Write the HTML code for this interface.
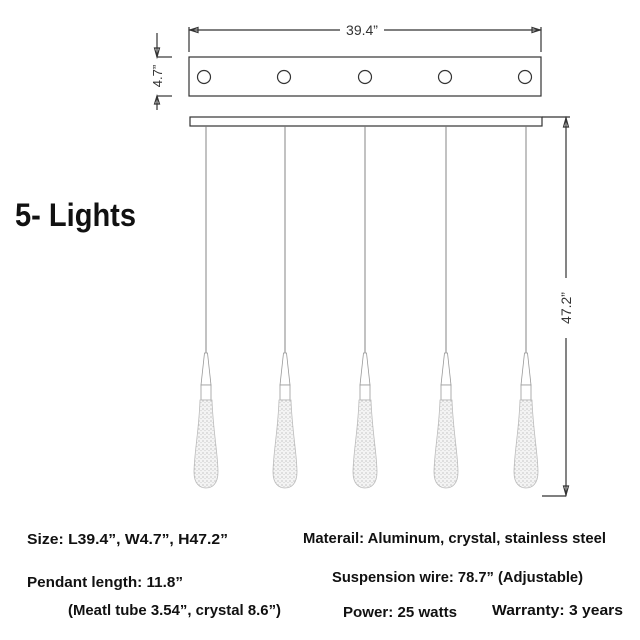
<!DOCTYPE html>
<html><head><meta charset="utf-8"><style>html,body{margin:0;padding:0;background:#fff}svg{display:block}</style></head>
<body>
<svg width="640" height="640" viewBox="0 0 640 640" xmlns="http://www.w3.org/2000/svg">
<defs>
<pattern id="dots" width="4" height="4" patternUnits="userSpaceOnUse">
<rect width="4" height="4" fill="#f4f4f4"/>
<circle cx="1" cy="1" r="0.6" fill="#aaa"/><circle cx="3" cy="2.6" r="0.5" fill="#bbb"/>
</pattern>
<g id="pend">
<path d="M-1.5,353 L-5,385 L5,385 L1.5,353 Z" fill="#fff" stroke="#999" stroke-width="0.8"/>
<rect x="-5" y="385" width="10" height="15" fill="#fff" stroke="#999" stroke-width="0.8"/>
<path d="M-6,400 L6,400 C7,430 12,455 12,472 C12,484 6,488 0,488 C-6,488 -12,484 -12,472 C-12,455 -7,430 -6,400 Z" fill="url(#dots)" stroke="#bbb" stroke-width="0.8"/>
</g>
</defs>
<g stroke="#333" stroke-width="1.2" fill="none">
<line x1="189" y1="30" x2="340" y2="30"/><line x1="384" y1="30" x2="541" y2="30"/>
<line x1="189" y1="27" x2="189" y2="52"/><line x1="541" y1="27" x2="541" y2="52"/>
<path d="M190,30 L198,27.5 L198,32.5 Z"/><path d="M540,30 L532,27.5 L532,32.5 Z"/>
<rect x="189" y="57" width="352" height="39"/>
<circle cx="204" cy="77" r="6.5"/><circle cx="284" cy="77" r="6.5"/><circle cx="365" cy="77" r="6.5"/><circle cx="445" cy="77" r="6.5"/><circle cx="525" cy="77" r="6.5"/>
<line x1="157" y1="33" x2="157" y2="57"/><line x1="157" y1="96" x2="157" y2="110"/>
<line x1="157" y1="57" x2="172" y2="57"/><line x1="157" y1="96" x2="172" y2="96"/>
<path d="M157,57 L154.5,48 L159.5,48 Z"/><path d="M157,96 L154.5,104 L159.5,104 Z"/>
<rect x="190" y="117" width="352" height="9"/>
<line x1="542" y1="117" x2="570" y2="117"/>
<line x1="566" y1="117" x2="566" y2="278"/><line x1="566" y1="338" x2="566" y2="496"/>
<line x1="542" y1="496" x2="566" y2="496"/>
<path d="M566,118 L563.5,127 L568.5,127 Z"/><path d="M566,495 L563.5,486 L568.5,486 Z"/>
</g>
<g stroke="#777" stroke-width="0.9">
<line x1="206" y1="126" x2="206" y2="354"/><line x1="285" y1="126" x2="285" y2="354"/><line x1="365" y1="126" x2="365" y2="354"/><line x1="446" y1="126" x2="446" y2="354"/><line x1="526" y1="126" x2="526" y2="354"/>
</g>
<use href="#pend" x="206"/><use href="#pend" x="285"/><use href="#pend" x="365"/><use href="#pend" x="446"/><use href="#pend" x="526"/>
<g font-family="Liberation Sans, sans-serif" fill="#333">
<text x="362" y="35" font-size="14" text-anchor="middle">39.4”</text>
<text transform="translate(162,76) rotate(-90)" font-size="13" text-anchor="middle">4.7”</text>
<text transform="translate(571,308) rotate(-90)" font-size="14" text-anchor="middle">47.2”</text>
</g>
<g font-family="Liberation Sans, sans-serif" font-weight="bold" fill="#111">
<text x="15" y="226" font-size="32" textLength="121" lengthAdjust="spacingAndGlyphs">5- Lights</text>
<g font-size="15">
<text x="27" y="544" textLength="201" lengthAdjust="spacingAndGlyphs">Size: L39.4”, W4.7”, H47.2”</text>
<text x="303" y="543" textLength="303" lengthAdjust="spacingAndGlyphs">Materail: Aluminum, crystal, stainless steel</text>
<text x="27" y="587" textLength="156" lengthAdjust="spacingAndGlyphs">Pendant length: 11.8”</text>
<text x="332" y="582" textLength="251" lengthAdjust="spacingAndGlyphs">Suspension wire:  78.7” (Adjustable)</text>
<text x="68" y="615" textLength="213" lengthAdjust="spacingAndGlyphs">(Meatl tube 3.54”, crystal 8.6”)</text>
<text x="343" y="617" textLength="114" lengthAdjust="spacingAndGlyphs">Power: 25 watts</text>
<text x="492" y="615" textLength="131" lengthAdjust="spacingAndGlyphs">Warranty: 3 years</text>
</g>
</g>
</svg>
</body></html>
